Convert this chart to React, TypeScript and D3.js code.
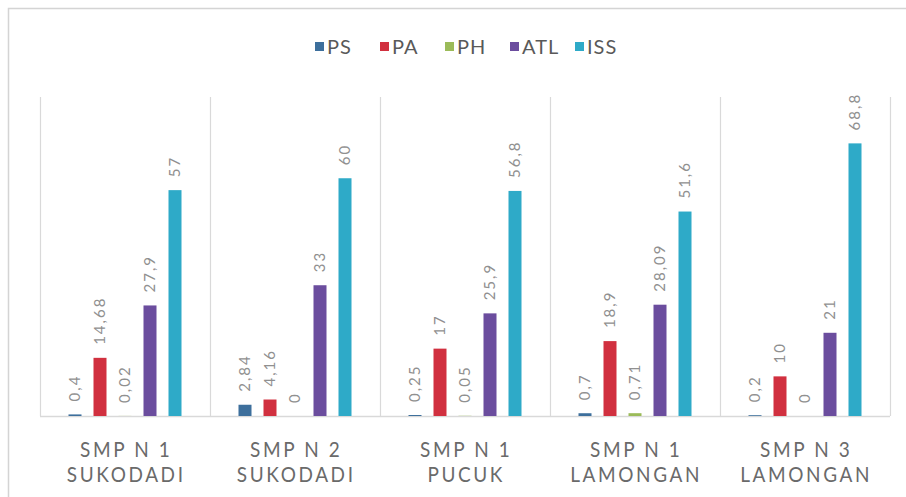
import React, { useEffect, useRef } from 'react';
import * as d3 from 'd3';

const categories = [
  ['SMP N 1', 'SUKODADI'],
  ['SMP N 2', 'SUKODADI'],
  ['SMP N 1', 'PUCUK'],
  ['SMP N 1', 'LAMONGAN'],
  ['SMP N 3', 'LAMONGAN'],
];
const seriesNames = ['PS', 'PA', 'PH', 'ATL', 'ISS'];
const seriesColors = ['#3d6f9c', '#d1303f', '#9bbb59', '#6b4d9e', '#2eaac8'];
const psValues = [0.4, 2.84, 0.25, 0.7, 0.2];
const paValues = [14.68, 4.16, 17, 18.9, 10];
const phValues = [0.02, 0, 0.05, 0.71, 0];
const atlValues = [27.9, 33, 25.9, 28.09, 21];
const issValues = [57, 60, 56.8, 51.6, 68.8];
const seriesValues = [psValues, paValues, phValues, atlValues, issValues];

const W = 906;
const H = 497;

export default function App() {
  const svgRef = useRef<SVGSVGElement>(null);

  useEffect(() => {
    if (!svgRef.current) return;
    const svg = d3.select(svgRef.current);
    svg.selectAll('*').remove();

    const left = 40, right = 890, top = 99, bottom = 416;
    const font = 'Lato, "Open Sans", sans-serif';

    // outer frame (only top and left edges visible)
    svg.append('path')
      .attr('d', `M8.5,${H} V8.5 H${W}`)
      .attr('fill', 'none')
      .attr('stroke', '#d4d4d4')
      .attr('stroke-width', 1.5);

    const x0 = d3.scaleBand<number>()
      .domain(categories.map((_, i) => i))
      .range([left, right]);

    const x1 = d3.scaleBand<number>()
      .domain(seriesNames.map((_, i) => i))
      .range([0, x0.bandwidth()])
      .paddingInner(0.48)
      .paddingOuter(1.14);

    const y = d3.scaleLinear().domain([0, 80]).range([bottom, top]);

    // category separators
    svg.append('g')
      .selectAll('line')
      .data(d3.range(categories.length + 1))
      .enter()
      .append('line')
      .attr('x1', (i: number) => left + i * x0.step() + 0.5)
      .attr('x2', (i: number) => left + i * x0.step() + 0.5)
      .attr('y1', y(80) - 2)
      .attr('y2', bottom)
      .attr('stroke', '#d9d9d9')
      .attr('stroke-width', 1.2);

    // baseline
    svg.append('line')
      .attr('x1', left)
      .attr('x2', right)
      .attr('y1', bottom + 0.5)
      .attr('y2', bottom + 0.5)
      .attr('stroke', '#d9d9d9')
      .attr('stroke-width', 1.5);

    const flat: { c: number; s: number; v: number }[] = [];
    categories.forEach((_, c) => {
      seriesNames.forEach((_, s) => flat.push({ c, s, v: seriesValues[s][c] }));
    });

    // bars
    svg.append('g')
      .selectAll('rect')
      .data(flat)
      .enter()
      .append('rect')
      .attr('x', (d: any) => (x0(d.c) || 0) + (x1(d.s) || 0))
      .attr('width', x1.bandwidth())
      .attr('y', (d: any) => y(d.v))
      .attr('height', (d: any) => bottom - y(d.v))
      .attr('fill', (d: any) => seriesColors[d.s]);

    // value labels (rotated)
    svg.append('g')
      .selectAll('text')
      .data(flat)
      .enter()
      .append('text')
      .attr('transform', (d: any) => {
        const cx = (x0(d.c) || 0) + (x1(d.s) || 0) + x1.bandwidth() / 2;
        const cy = y(d.v) - 13;
        return `translate(${cx},${cy}) rotate(-90)`;
      })
      .attr('dy', '0.36em')
      .attr('text-anchor', 'start')
      .attr('font-family', font)
      .attr('font-size', 15)
      .attr('letter-spacing', 2)
      .attr('fill', '#909090')
      .text((d: any) => String(d.v).replace('.', ','));

    // category labels
    const xl = svg.append('g');
    categories.forEach((lines, c) => {
      const cx = (x0(c) || 0) + x0.bandwidth() / 2;
      lines.forEach((line, k) => {
        xl.append('text')
          .attr('transform', `translate(${cx + 1.2},${457 + k * 25}) scale(1,1.08)`)
          .attr('text-anchor', 'middle')
          .attr('font-family', font)
          .attr('font-size', 19)
          .attr('letter-spacing', 2.6)
          .attr('fill', '#6a6a6a')
          .text(line);
      });
    });

    // legend
    const lx = d3.scalePoint<number>()
      .domain(seriesNames.map((_, i) => i))
      .range([315, 575]);
    const lg = svg.append('g');
    seriesNames.forEach((name, i) => {
      const px = lx(i) || 0;
      lg.append('rect')
        .attr('x', px)
        .attr('y', 42)
        .attr('width', 9)
        .attr('height', 9)
        .attr('fill', seriesColors[i]);
      lg.append('text')
        .attr('x', px + 12)
        .attr('y', 54)
        .attr('font-family', font)
        .attr('font-size', 20)
        .attr('letter-spacing', 1)
        .attr('fill', '#595959')
        .text(name);
    });
  }, []);

  return (
    <svg
      ref={svgRef}
      width={W}
      height={H}
      style={{ position: 'absolute', left: 0, top: 0, background: '#ffffff' }}
    />
  );
}
